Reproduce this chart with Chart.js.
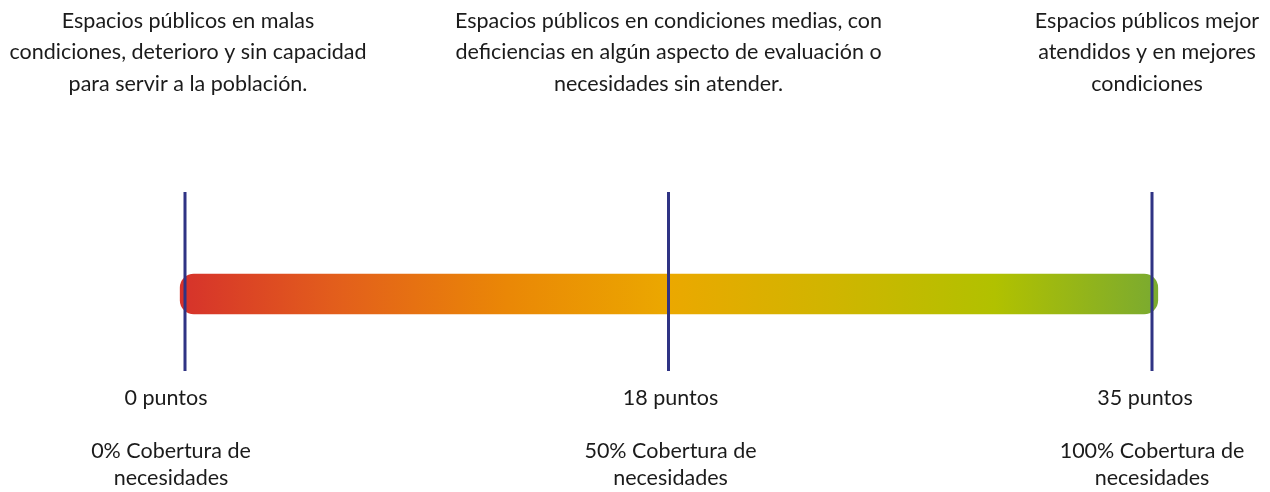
<!DOCTYPE html>
<html lang="es">
<head>
<meta charset="utf-8">
<title>Escala de espacios públicos</title>
<script src="https://cdn.jsdelivr.net/npm/chart.js@4.4.0/dist/chart.umd.min.js"></script>
<style>
  html, body { margin: 0; padding: 0; background: #fff; }
  #wrap { width: 1270px; height: 492px; }
</style>
</head>
<body>
<div id="wrap"><canvas id="escalaChart" width="1270" height="492"></canvas></div>
<script>
// datos de la escala
const cobertura = [0, 50, 100];            // % cobertura de necesidades (eje x)
const puntos = ['0 puntos', '18 puntos', '35 puntos'];
const coberturaTexto = [
  ['0% Cobertura de', 'necesidades'],
  ['50% Cobertura de', 'necesidades'],
  ['100% Cobertura de', 'necesidades']
];
const descripciones = [
  ['Espacios públicos en malas', 'condiciones, deterioro y sin capacidad', 'para servir a la población.'],
  ['Espacios públicos en condiciones medias, con', 'deficiencias en algún aspecto de evaluación o', 'necesidades sin atender.'],
  ['Espacios públicos mejor', 'atendidos y en mejores', 'condiciones']
];
const rangoBarra = [-0.5, 100.6];
const coloresGradiente = ['#d6322b', '#e3601b', '#ea8706', '#eba800', '#d0b500', '#b1c100', '#7aaa30'];

// layout (unidades del eje y = pixeles del lienzo)
const barraY = 294;
const lineaTop = 192;
const lineaBottom = 371;
const FUENTE = '21.5px Lato, "Open Sans", sans-serif';
// pequeños corrimientos horizontales de los textos respecto a cada linea
const corrSup = [3, 0, -5];
const corrPuntos = [-19, 2, -7];
const corrCob = [-14, 2, 0];

const gradienteBarra = (context) => {
  const chart = context.chart;
  const area = chart.chartArea;
  if (!area) return coloresGradiente[0];
  const x = chart.scales.x;
  const g = chart.ctx.createLinearGradient(x.getPixelForValue(rangoBarra[0]), 0, x.getPixelForValue(rangoBarra[1]), 0);
  coloresGradiente.forEach((c, i) => g.addColorStop(i / (coloresGradiente.length - 1), c));
  return g;
};

const textos = {
  id: 'textos',
  afterDraw(chart) {
    const ctx = chart.ctx;
    const x = chart.scales.x;
    ctx.save();
    ctx.font = FUENTE;
    ctx.fillStyle = '#1b1b1b';
    ctx.textAlign = 'center';
    ctx.textBaseline = 'middle';
    cobertura.forEach((v, i) => {
      const px = x.getPixelForValue(v);
      descripciones[i].forEach((t, j) => ctx.fillText(t, px + corrSup[i], 21 + j * 31.5));
      ctx.fillText(puntos[i], px + corrPuntos[i], 398);
      coberturaTexto[i].forEach((t, j) => ctx.fillText(t, px + corrCob[i], 451 + j * 27));
    });
    ctx.restore();
  }
};

const lineas = cobertura.map(v => ({
  type: 'line',
  data: [{ x: v, y: lineaTop }, { x: v, y: lineaBottom }],
  borderColor: '#2f3384',
  borderWidth: 3,
  pointRadius: 0,
  clip: false,
  order: 0
}));

new Chart(document.getElementById('escalaChart'), {
  type: 'bar',
  data: {
    datasets: [
      {
        type: 'bar',
        data: [{ x: rangoBarra, y: barraY }],
        backgroundColor: gradienteBarra,
        borderWidth: 0,
        borderRadius: 14,
        borderSkipped: false,
        barThickness: 40,
        clip: false,
        order: 1
      },
      ...lineas
    ]
  },
  options: {
    responsive: false,
    animation: false,
    indexAxis: 'y',
    layout: { padding: { left: 185, right: 118, top: 0, bottom: 0 } },
    scales: {
      x: { type: 'linear', min: 0, max: 100, display: false },
      y: { type: 'linear', min: 0, max: 492, reverse: true, offset: false, display: false }
    },
    plugins: {
      legend: { display: false },
      tooltip: { enabled: false }
    }
  },
  plugins: [textos]
});
</script>
</body>
</html>
